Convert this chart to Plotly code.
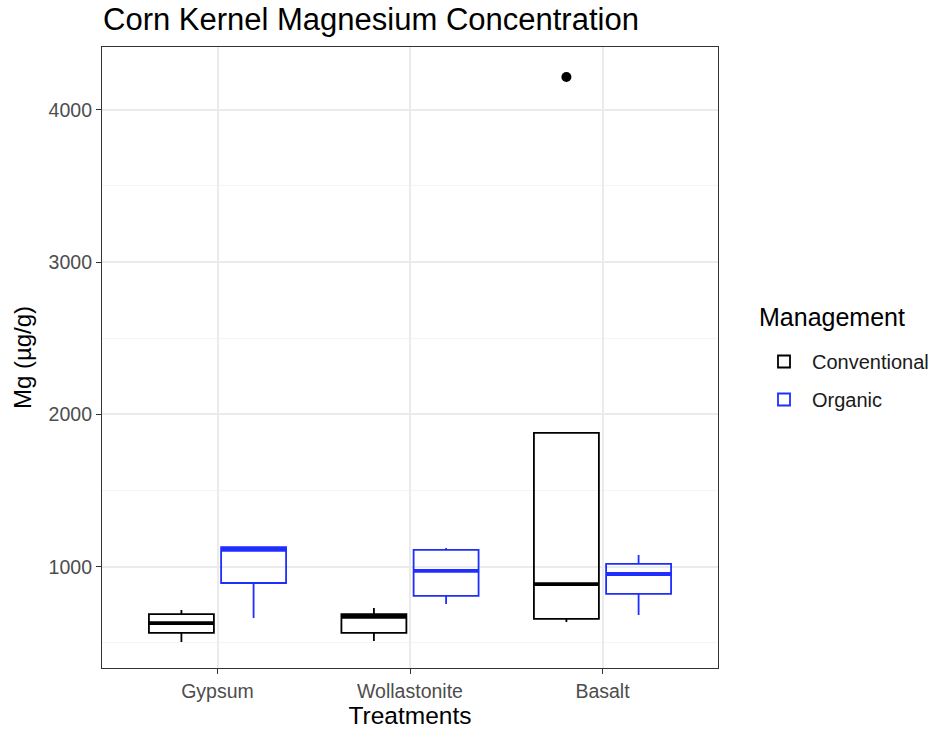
import plotly.graph_objects as go

# Summary statistics of kernel Mg (µg/g) per treatment and management
treatments = ["Gypsum", "Wollastonite", "Basalt"]
management = ["Conventional", "Organic"]
colors = {"Conventional": "#000000", "Organic": "#1F2EFF"}

conv_lower = [506, 512, 637]
conv_q1 = [565, 565, 657]
conv_median = [630, 670, 886]
conv_q3 = [689, 689, 1878]
conv_upper = [716, 729, 1878]

org_lower = [663, 755, 683]
org_q1 = [893, 808, 821]
org_median = [1110, 972, 952]
org_q3 = [1129, 1110, 1018]
org_upper = [1129, 1123, 1077]

# Outlying observations (treatment, management, value)
out_treatment = ["Basalt"]
out_management = ["Conventional"]
out_value = [4215]

stats = {
    "Conventional": (conv_lower, conv_q1, conv_median, conv_q3, conv_upper),
    "Organic": (org_lower, org_q1, org_median, org_q3, org_upper),
}

dodge = 0.375
box_w = 0.3375
offset = {"Conventional": -dodge / 2, "Organic": dodge / 2}
centers = list(range(len(treatments)))

fig = go.Figure()
for m in management:
    lo, q1, med, q3, hi = stats[m]
    xs = [c + offset[m] for c in centers]
    fig.add_trace(go.Box(
        x=xs, q1=q1, median=med, q3=q3, lowerfence=lo, upperfence=hi,
        name=m, width=box_w, whiskerwidth=0,
        line=dict(color=colors[m], width=1.8),
        fillcolor="rgba(255,255,255,0)",
        boxpoints=False, legendgroup=m, hoverinfo="skip",
    ))
    # heavier median bars
    mx, my = [], []
    for x, v in zip(xs, med):
        mx += [x - box_w / 2, x + box_w / 2, None]
        my += [v, v, None]
    fig.add_trace(go.Scatter(
        x=mx, y=my, mode="lines", line=dict(color=colors[m], width=3.8),
        showlegend=False, hoverinfo="skip",
    ))

ox = [treatments.index(t) + offset[m] for t, m in zip(out_treatment, out_management)]
fig.add_trace(go.Scatter(
    x=ox, y=out_value, mode="markers",
    marker=dict(color="black", size=10),
    showlegend=False, hoverinfo="skip",
))

font = "Liberation Sans, Arial, sans-serif"
fig.update_layout(
    width=935, height=731,
    margin=dict(l=102, r=217, t=47, b=63, autoexpand=False),
    paper_bgcolor="white", plot_bgcolor="white",
    font=dict(family=font, color="#000000"),
    title=dict(text="Corn Kernel Magnesium Concentration", x=103 / 935, xanchor="left",
               y=1 - 19 / 731, yanchor="middle", font=dict(size=31, color="black")),
    legend=dict(
        xref="container", yref="container",
        x=756 / 935, xanchor="left", y=1 - 342 / 731, yanchor="top",
        font=dict(size=20, color="#1a1a1a"),
        tracegroupgap=9, itemwidth=46,
    ),
    showlegend=True,
    annotations=[dict(
        text="Management", xref="paper", yref="paper",
        x=1.063, xanchor="left", y=0.565, yanchor="middle",
        showarrow=False, font=dict(size=25, color="black"),
    )],
)
fig.update_xaxes(
    range=[-0.6, 2.6], tickmode="array", tickvals=centers, ticktext=treatments,
    showgrid=True, gridcolor="#EBEBEB", gridwidth=1.5,
    showline=True, linecolor="#333333", linewidth=1.2, mirror=True,
    ticks="outside", ticklen=5, tickcolor="#333333",
    tickfont=dict(size=19.5, color="#4D4D4D"),
    title=dict(text="Treatments", font=dict(size=24.5, color="black"), standoff=6),
    zeroline=False, automargin=False,
)
fig.update_yaxes(
    range=[335, 4412], tick0=0, dtick=1000,
    showgrid=True, gridcolor="#EBEBEB", gridwidth=1.5,
    minor=dict(dtick=500, tick0=0, showgrid=True, gridcolor="#F4F4F4", gridwidth=1),
    showline=True, linecolor="#333333", linewidth=1.2, mirror=True,
    ticks="outside", ticklen=5, tickcolor="#333333",
    tickfont=dict(size=19.5, color="#4D4D4D"),
    title=dict(text="Mg (µg/g)", font=dict(size=24, color="black"), standoff=10),
    zeroline=False, automargin=False,
)

fig.write_html("out.html")
